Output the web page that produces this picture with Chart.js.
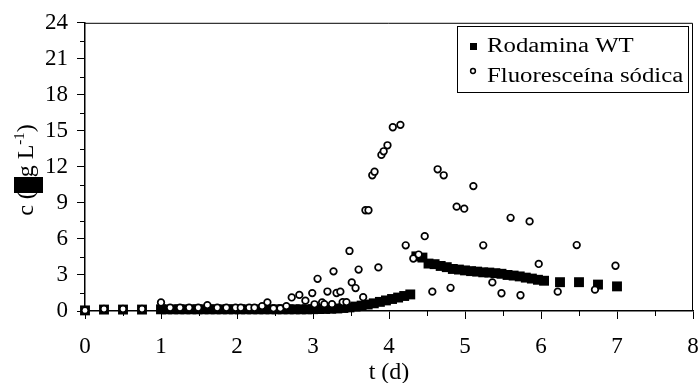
<!DOCTYPE html>
<html>
<head>
<meta charset="utf-8">
<script src="https://cdn.jsdelivr.net/npm/chart.js@4.4.1/dist/chart.umd.min.js"></script>
<style>
  html, body { margin: 0; padding: 0; background: #fff; }
  #chart { display: block; }
</style>
</head>
<body>
<canvas id="chart" width="700" height="383"></canvas>
<script>
// tracer curves, t in days, c

const seriesNames = ['Rodamina WT', 'Fluoresceína sódica'];

const rodTime = [
  0, 0.25, 0.5, 0.75,
  1.00, 1.08, 1.16, 1.24, 1.32, 1.40, 1.48, 1.56, 1.64, 1.72, 1.80, 1.88, 1.96, 2.04,
  2.12, 2.20, 2.28, 2.36, 2.44, 2.52, 2.60, 2.68, 2.76, 2.84, 2.92, 3.00, 3.08, 3.16,
  3.24, 3.32, 3.40, 3.48, 3.56, 3.64, 3.72, 3.80, 3.88, 3.96, 4.04, 4.12, 4.20, 4.28,
  4.36, 4.44, 4.52, 4.60, 4.68, 4.76, 4.84, 4.92, 5.00, 5.08, 5.16, 5.24, 5.32, 5.40,
  5.48, 5.56, 5.64, 5.72, 5.80, 5.88, 5.96, 6.04,
  6.25, 6.5, 6.75, 7.0
];
const rodConc = [
  0.05, 0.12, 0.12, 0.12,
  0.14, 0.14, 0.14, 0.14, 0.14, 0.14, 0.14, 0.14, 0.14, 0.14, 0.14, 0.14, 0.14, 0.14,
  0.14, 0.14, 0.14, 0.14, 0.14, 0.14, 0.14, 0.14, 0.14, 0.14, 0.14, 0.15, 0.16, 0.17,
  0.19, 0.21, 0.25, 0.30, 0.37, 0.45, 0.54, 0.64, 0.76, 0.88, 1.00, 1.12, 1.25, 1.38,
  4.55, 4.45, 3.95, 3.90, 3.75, 3.65, 3.50, 3.45, 3.38, 3.32, 3.28, 3.22, 3.20, 3.15,
  3.10, 3.00, 2.95, 2.88, 2.78, 2.70, 2.60, 2.52,
  2.40, 2.40, 2.20, 2.05
];

const fluTime = [
  0, 0.25, 0.5, 0.75,
  1.00, 1.12, 1.25, 1.37, 1.49, 1.61, 1.74, 1.86, 1.98, 2.05, 2.16, 2.23, 2.33, 2.40, 2.48, 2.57, 2.65,
  2.72, 2.82, 2.90, 2.99, 3.02, 3.06, 3.12, 3.15, 3.19, 3.25,
  3.27, 3.31, 3.36, 3.39, 3.44, 3.48, 3.51, 3.56, 3.60, 3.66,
  3.69, 3.73, 3.78, 3.81, 3.86, 3.90, 3.93, 3.98, 4.05, 4.15,
  4.22, 4.32, 4.39, 4.47, 4.57, 4.64, 4.72, 4.81, 4.89, 4.99,
  5.11, 5.24, 5.36, 5.48, 5.60, 5.73, 5.85, 5.97, 6.22, 6.47,
  6.71, 6.98
];
const fluConc = [
  0.05, 0.17, 0.17, 0.17,
  0.71, 0.27, 0.27, 0.27, 0.27, 0.49, 0.27, 0.27, 0.27, 0.27, 0.27, 0.27, 0.41, 0.72, 0.22, 0.22, 0.41,
  1.13, 1.34, 0.86, 1.49, 0.56, 2.68, 0.72, 0.57, 1.62, 0.57,
  3.30, 1.50, 1.61, 0.74, 0.74, 5.00, 2.38, 1.91, 3.45, 1.15,
  8.39, 8.39, 11.3, 11.6, 3.63, 13.0, 13.3, 13.8, 15.3, 15.5,
  5.47, 4.37, 4.70, 6.23, 1.61, 11.8, 11.3, 1.93, 8.69, 8.52,
  10.4, 5.47, 2.38, 1.48, 7.76, 1.31, 7.46, 3.92, 1.61, 5.49,
  1.78, 3.77
];

const xTicks = [0, 1, 2, 3, 4, 5, 6, 7, 8];
const yTicks = [0, 3, 6, 9, 12, 15, 18, 21, 24];

const FONT = "'Liberation Serif', 'Times New Roman', serif";

function toPoints(xs, ys) {
    return xs.map((x, i) => ({ x: x, y: ys[i] }));
}

/* =====================
   Extras: frame, minor ticks, y title, legend box
====================== */
const extras = {
    id: 'extras',
    beforeDatasetsDraw(chart) {
        const { ctx, chartArea: a } = chart;
        ctx.save();
        ctx.strokeStyle = '#000';
        ctx.lineWidth = 1;
        ctx.beginPath();
        ctx.moveTo(a.left, a.top + 0.5);
        ctx.lineTo(a.right - 0.5, a.top + 0.5);
        ctx.lineTo(a.right - 0.5, a.bottom);
        ctx.stroke();

        // minor ticks
        const xs = chart.scales.x, ys = chart.scales.y;
        ctx.beginPath();
        for (let i = 0; i < xTicks.length - 1; i++) {
            const px = Math.round(xs.getPixelForValue(xTicks[i] + 0.5)) + 0.5;
            ctx.moveTo(px, a.bottom);
            ctx.lineTo(px, a.bottom + 5);
        }
        for (let i = 0; i < yTicks.length - 1; i++) {
            const py = Math.round(ys.getPixelForValue(yTicks[i] + 1.5)) + 0.5;
            ctx.moveTo(a.left - 5, py);
            ctx.lineTo(a.left, py);
        }
        ctx.stroke();
        ctx.restore();
    },
    afterDraw(chart) {
        const { ctx } = chart;
        ctx.save();
        ctx.fillStyle = '#000';

        // y axis title, rotated
        const big = '24px ' + FONT, small = '15px ' + FONT;
        ctx.font = big;
        const w1 = ctx.measureText('c (').width;
        const wMu = ctx.measureText('\u00b5').width;
        const w2 = ctx.measureText('g L').width;
        const w4 = ctx.measureText(')').width;
        ctx.font = small;
        const w3 = ctx.measureText('-1').width;
        const total = w1 + wMu + w2 + w3 + w4;
        const base = 33, start = 170 + total / 2;
        ctx.translate(base, start);
        ctx.rotate(-Math.PI / 2);
        ctx.textBaseline = 'alphabetic';
        ctx.textAlign = 'left';
        ctx.font = big;
        ctx.fillText('c (', 0, 0);
        ctx.fillText('g L', w1 + wMu, 0);
        ctx.fillText(')', w1 + wMu + w2 + w3, 0);
        ctx.font = small;
        ctx.fillText('-1', w1 + wMu + w2, -9);
        ctx.setTransform(1, 0, 0, 1, 0, 0);
        // the unknown glyph shows as a black block
        ctx.fillRect(14, Math.round(start - w1 - wMu), 29, Math.round(wMu) + 2);

        // legend box
        ctx.strokeStyle = '#000';
        ctx.lineWidth = 1;
        ctx.strokeRect(457.5, 26.5, 231, 66);
        ctx.fillRect(470, 43, 7, 7);
        ctx.beginPath();
        ctx.arc(473, 71, 2.4, 0, Math.PI * 2);
        ctx.fillStyle = '#fff';
        ctx.fill();
        ctx.lineWidth = 1.5;
        ctx.stroke();
        ctx.fillStyle = '#000';
        ctx.font = '20px ' + FONT;
        ctx.textAlign = 'left';
        ctx.textBaseline = 'alphabetic';
        // legend text in the original is drawn wider than normal
        ctx.translate(487, 0);
        ctx.scale(1.24, 1);
        ctx.fillText(seriesNames[0], 0, 52);
        ctx.fillText(seriesNames[1], 0, 82);
        ctx.restore();
    }
};

document.addEventListener('DOMContentLoaded', () => {
    const ctx = document.getElementById('chart').getContext('2d');
    new Chart(ctx, {
        type: 'scatter',
        data: {
            datasets: [{
                label: seriesNames[0],
                data: toPoints(rodTime, rodConc),
                pointStyle: 'rect',
                pointRadius: 7,
                backgroundColor: '#000',
                borderWidth: 0,
                order: 1
            }, {
                label: seriesNames[1],
                data: toPoints(fluTime, fluConc),
                pointStyle: 'circle',
                pointRadius: 3.3,
                borderWidth: 1.7,
                borderColor: '#000',
                backgroundColor: '#fff',
                order: 0
            }]
        },
        options: {
            responsive: false,
            animation: false,
            devicePixelRatio: 1,
            clip: false,
            layout: { padding: { top: 18, right: 5, left: 0, bottom: 0 } },
            plugins: {
                legend: { display: false },
                tooltip: { enabled: false }
            },
            scales: {
                x: {
                    type: 'linear',
                    min: 0,
                    max: 8,
                    afterBuildTicks: (scale) => { scale.ticks = xTicks.map(v => ({ value: v })); },
                    afterFit: (scale) => { scale.height = 72; scale.paddingLeft = 0; scale.paddingRight = 0; },
                    grid: { drawOnChartArea: false, color: '#000', tickLength: 8, tickColor: '#000' },
                    border: { color: '#000', width: 1.5 },
                    ticks: { color: '#000', padding: 14, font: { family: FONT, size: 23 }, maxRotation: 0 },
                    title: {
                        display: true,
                        text: 't (d)',
                        color: '#000',
                        font: { family: FONT, size: 24, lineHeight: 1 },
                        padding: { top: 0, bottom: -2 }
                    }
                },
                y: {
                    min: 0,
                    max: 24,
                    afterBuildTicks: (scale) => { scale.ticks = yTicks.map(v => ({ value: v })); },
                    afterFit: (scale) => { scale.width = 85; },
                    grid: { drawOnChartArea: false, color: '#000', tickLength: 8, tickColor: '#000' },
                    border: { color: '#000', width: 1.5 },
                    ticks: { color: '#000', padding: 9, font: { family: FONT, size: 23 } }
                }
            }
        },
        plugins: [extras]
    });
});
</script>
</body>
</html>
